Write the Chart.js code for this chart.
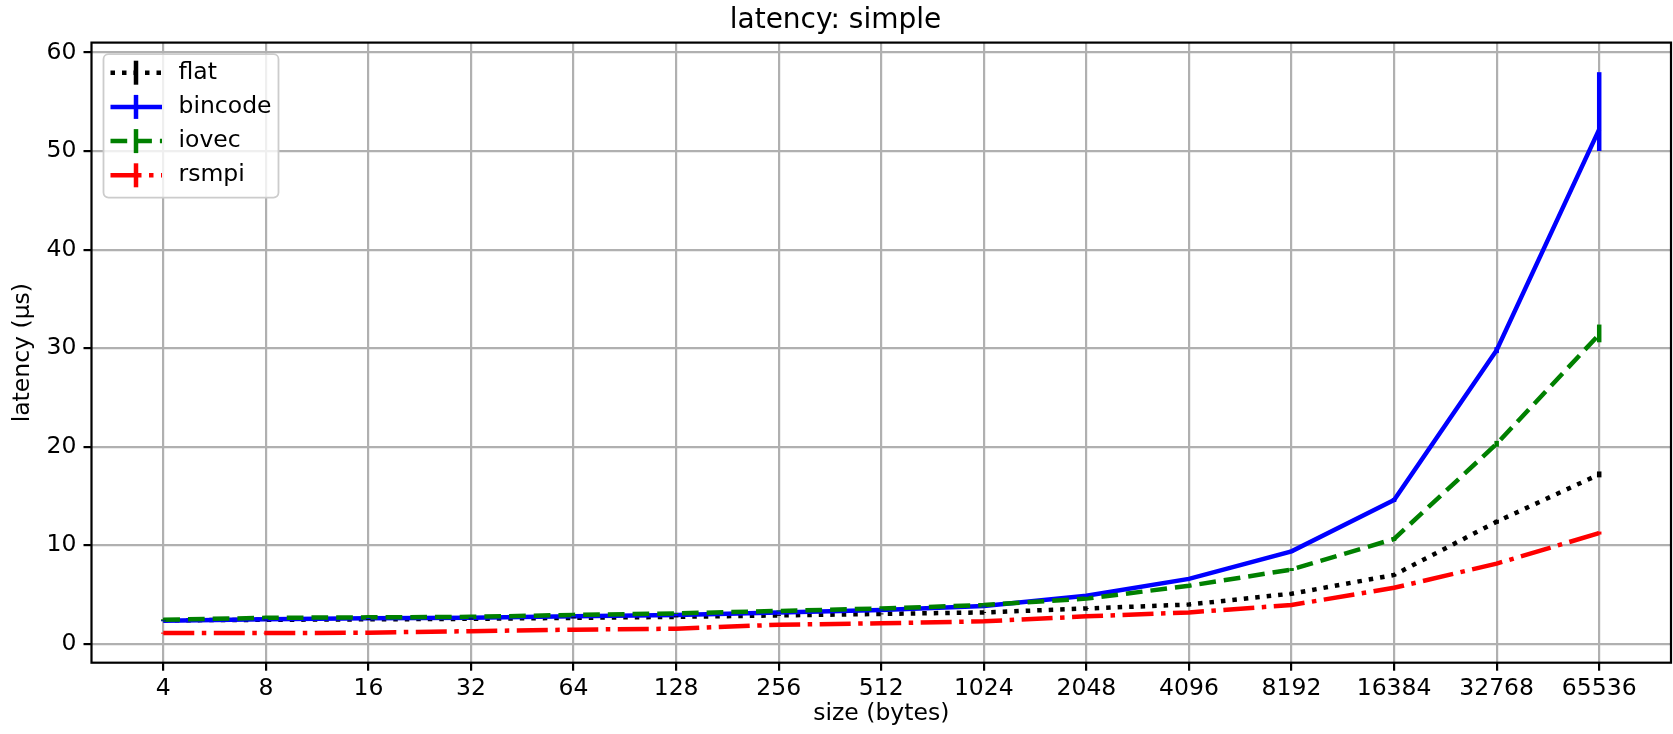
<!DOCTYPE html>
<html>
<head>
<meta charset="utf-8">
<title>latency: simple</title>
<script src="https://cdn.jsdelivr.net/npm/chart.js@4.4.1/dist/chart.umd.min.js"></script>
<style>
  html, body { margin: 0; padding: 0; background: #fff; }
  canvas { display: block; }
</style>
</head>
<body>
<canvas id="chart" width="1673" height="734"></canvas>
<script>
const sizes = [4, 8, 16, 32, 64, 128, 256, 512, 1024, 2048, 4096, 8192, 16384, 32768, 65536];
const yTicks = [0, 10, 20, 30, 40, 50, 60];

const flat    = [2.4, 2.45, 2.5, 2.55, 2.65, 2.75, 2.9, 3.05, 3.2, 3.6, 4.0, 5.1, 7.0, 12.4, 17.2];
const bincode = [2.35, 2.5, 2.6, 2.65, 2.8, 2.95, 3.2, 3.45, 3.85, 4.9, 6.6, 9.4, 14.6, 29.8, 52.2];
const iovec   = [2.45, 2.65, 2.7, 2.75, 2.95, 3.1, 3.35, 3.6, 3.95, 4.6, 5.9, 7.55, 10.65, 20.3, 31.4];
const rsmpi   = [1.1, 1.1, 1.15, 1.3, 1.45, 1.55, 1.95, 2.1, 2.3, 2.8, 3.2, 3.95, 5.7, 8.15, 11.25];

// error bars (below / above the value)
const flatErrLo    = [0.05, 0.05, 0.05, 0.05, 0.05, 0.05, 0.05, 0.05, 0.05, 0.05, 0.05, 0.1, 0.1, 0.2, 0.3];
const flatErrHi    = [0.05, 0.05, 0.05, 0.05, 0.05, 0.05, 0.05, 0.05, 0.05, 0.05, 0.05, 0.1, 0.1, 0.2, 0.3];
const bincodeErrLo = [0.05, 0.05, 0.05, 0.05, 0.05, 0.05, 0.05, 0.05, 0.05, 0.1, 0.1, 0.15, 0.2, 0.3, 2.2];
const bincodeErrHi = [0.05, 0.05, 0.05, 0.05, 0.05, 0.05, 0.05, 0.05, 0.05, 0.1, 0.1, 0.15, 0.2, 0.3, 5.8];
const iovecErrLo   = [0.05, 0.05, 0.05, 0.05, 0.05, 0.05, 0.05, 0.05, 0.05, 0.1, 0.1, 0.15, 0.2, 0.3, 0.8];
const iovecErrHi   = [0.05, 0.05, 0.05, 0.05, 0.05, 0.05, 0.05, 0.05, 0.05, 0.1, 0.1, 0.15, 0.2, 0.3, 1.0];
const rsmpiErrLo   = [0.05, 0.05, 0.05, 0.05, 0.05, 0.05, 0.05, 0.05, 0.05, 0.05, 0.05, 0.05, 0.1, 0.1, 0.15];
const rsmpiErrHi   = [0.05, 0.05, 0.05, 0.05, 0.05, 0.05, 0.05, 0.05, 0.05, 0.05, 0.05, 0.05, 0.1, 0.1, 0.15];

const FONT = "'DejaVu Sans', sans-serif";
const LW = 4.5;
const GRID = "#b0b0b0";

const dashes = {
  dotted: [4.5, 7],
  dashed: [16.7, 8],
  dashdot: [31, 7.5, 4.5, 7.5],
};

function makeSet(label, values, lo, hi, color, dash, order) {
  return {
    label,
    data: sizes.map((s, i) => ({ x: s, y: values[i] })),
    errLo: lo,
    errHi: hi,
    borderColor: color,
    backgroundColor: color,
    borderWidth: LW,
    borderDash: dash,
    borderCapStyle: "butt",
    borderJoinStyle: "miter",
    pointRadius: 0,
    tension: 0,
    fill: false,
    order,
  };
}

const datasets = [
  makeSet("flat", flat, flatErrLo, flatErrHi, "#000000", dashes.dotted, 4),
  makeSet("bincode", bincode, bincodeErrLo, bincodeErrHi, "#0000ff", [], 3),
  makeSet("iovec", iovec, iovecErrLo, iovecErrHi, "#008000", dashes.dashed, 2),
  makeSet("rsmpi", rsmpi, rsmpiErrLo, rsmpiErrHi, "#ff0000", dashes.dashdot, 1),
];

// error bars, axes frame and the boxed legend inside the plot
const extras = {
  id: "extras",
  afterDatasetsDraw(chart) {
    const { ctx, chartArea: a } = chart;
    const xs = chart.scales.x;
    const ys = chart.scales.y;
    ctx.save();

    chart.data.datasets.forEach((ds) => {
      ctx.strokeStyle = ds.borderColor;
      ctx.lineWidth = LW;
      ctx.lineCap = "butt";
      ctx.setLineDash([]);
      ds.data.forEach((p, i) => {
        const px = xs.getPixelForValue(p.x);
        ctx.beginPath();
        ctx.moveTo(px, ys.getPixelForValue(p.y - ds.errLo[i]));
        ctx.lineTo(px, ys.getPixelForValue(p.y + ds.errHi[i]));
        ctx.stroke();
      });
    });

    ctx.strokeStyle = "#000";
    ctx.lineWidth = 2.2;
    ctx.strokeRect(a.left, a.top, a.right - a.left, a.bottom - a.top);

    // legend
    const lx = a.left + 12, ly = a.top + 11.6, lw = 175, lh = 143.4, r = 5;
    ctx.beginPath();
    ctx.moveTo(lx + r, ly);
    ctx.arcTo(lx + lw, ly, lx + lw, ly + lh, r);
    ctx.arcTo(lx + lw, ly + lh, lx, ly + lh, r);
    ctx.arcTo(lx, ly + lh, lx, ly, r);
    ctx.arcTo(lx, ly, lx + lw, ly, r);
    ctx.closePath();
    ctx.fillStyle = "rgba(255,255,255,0.8)";
    ctx.fill();
    ctx.strokeStyle = "#cccccc";
    ctx.lineWidth = 1.8;
    ctx.stroke();

    ctx.font = "23.5px " + FONT;
    ctx.textBaseline = "middle";
    ctx.textAlign = "left";
    chart.data.datasets.forEach((ds, i) => {
      const cy = ly + 18.5 + i * 34.2;
      const x0 = lx + 7, x1 = lx + 58.5, xm = lx + 32.5;
      ctx.strokeStyle = ds.borderColor;
      ctx.lineWidth = LW;
      ctx.setLineDash(ds.borderDash);
      ctx.beginPath();
      ctx.moveTo(x0, cy);
      ctx.lineTo(x1, cy);
      ctx.stroke();
      ctx.setLineDash([]);
      ctx.beginPath();
      ctx.moveTo(xm, cy - 12);
      ctx.lineTo(xm, cy + 12);
      ctx.stroke();
      ctx.fillStyle = "#000";
      ctx.fillText(ds.label, lx + 75, cy);
    });

    ctx.restore();
  },
};

const tickFont = { family: FONT, size: 23.5 };

new Chart(document.getElementById("chart"), {
  type: "line",
  data: { datasets },
  plugins: [extras],
  options: {
    responsive: false,
    animation: false,
    devicePixelRatio: 1,
    layout: { padding: { left: 0, right: 2, top: 0, bottom: 0 } },
    plugins: {
      legend: { display: false },
      tooltip: { enabled: false },
      title: {
        display: true,
        text: "latency: simple",
        color: "#000",
        font: { family: FONT, size: 28, weight: "normal" },
        padding: { top: 4, bottom: 5 },
      },
    },
    scales: {
      x: {
        type: "logarithmic",
        min: sizes[0] / Math.pow(2, 0.7),
        max: sizes[sizes.length - 1] * Math.pow(2, 0.7),
        afterBuildTicks: (scale) => {
          scale.ticks = sizes.map((s) => ({ value: s }));
        },
        afterFit: (scale) => {
          scale.height = 71.3;
        },
        border: { display: false },
        grid: {
          color: GRID,
          lineWidth: 2.2,
          tickColor: "#000",
          tickLength: 8,
          tickWidth: 2.2,
        },
        ticks: {
          color: "#000",
          font: tickFont,
          padding: 4,
          autoSkip: false,
          maxRotation: 0,
          callback: (v) => String(v),
        },
        title: {
          display: true,
          text: "size (bytes)",
          color: "#000",
          font: tickFont,
          padding: { top: 0, bottom: 6 },
        },
      },
      y: {
        type: "linear",
        min: -1.9,
        max: 61,
        afterBuildTicks: (scale) => {
          scale.ticks = yTicks.map((v) => ({ value: v }));
        },
        afterFit: (scale) => {
          scale.width = 91.5;
        },
        border: { display: false },
        grid: {
          color: GRID,
          lineWidth: 2.2,
          tickColor: "#000",
          tickLength: 8,
          tickWidth: 2.2,
        },
        ticks: {
          color: "#000",
          font: tickFont,
          padding: 7,
          callback: (v) => String(v),
        },
        title: {
          display: true,
          text: "latency (µs)",
          color: "#000",
          font: tickFont,
          padding: { top: 9, bottom: 0 },
        },
      },
    },
  },
});
</script>
</body>
</html>
